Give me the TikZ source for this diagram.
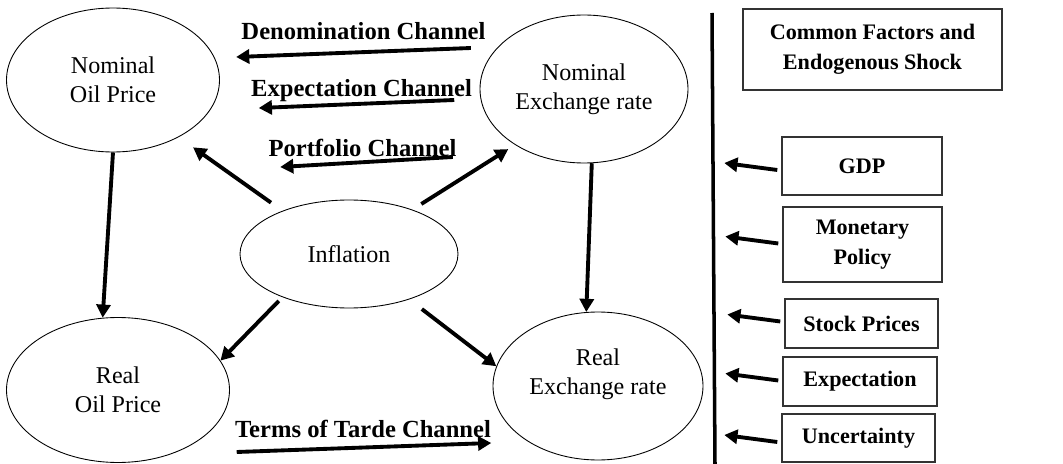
\documentclass[tikz,border=0pt]{standalone}
\usepackage{fontspec}
\setmainfont{Liberation Serif}
\usetikzlibrary{shapes.geometric,arrows.meta}

\begin{document}
\begin{tikzpicture}[x=0.2mm,y=-0.2mm,
  oval/.style={draw,ellipse,line width=0.5pt,inner sep=0pt,align=center,
    font=\fontsize{13.7}{16.5}\selectfont},
  factor/.style={draw=black!80,line width=0.8pt,inner sep=0pt,align=center,
    font=\fontsize{12.6}{17}\selectfont\bfseries},
  chan/.style={inner sep=0pt,anchor=base,font=\fontsize{14}{16}\selectfont\bfseries},
  arr/.style={line width=2.2pt,-{Triangle[length=7.5pt,width=8pt]}}]
\useasboundingbox (0,0) rectangle (1063,464);

\node[oval,minimum width=42.6mm,minimum height=28.8mm] (nop) at (113,80) {Nominal\\Oil Price};
\node[oval,minimum width=41.6mm,minimum height=29.6mm] (ner) at (584,89) {Nominal\\Exchange rate};
\node[oval,minimum width=43.6mm,minimum height=21.6mm] (inf) at (349,254) {Inflation};
\node[oval,minimum width=44.6mm,minimum height=29mm] (rop) at (118,390) {Real\\Oil Price};
\node[oval,minimum width=42mm,minimum height=29.6mm] (rer) at (598,386) {Real\\Exchange rate\\\mbox{}};

\node[chan] (den) at (363.5,40) {Denomination Channel};
\node[chan] (exc) at (361.5,97) {Expectation Channel};
\node[chan] (por) at (362.5,157) {Portfolio Channel};
\node[chan] (tot) at (363,437) {Terms of Tarde Channel};

\draw[arr] ([shift={(-15,8)}]den.base east) -- ([shift={(-5,17)}]den.base west);
\draw[arr] ([shift={(-18,3)}]exc.base east) -- ([shift={(8,11)}]exc.base west);
\draw[arr] ([shift={(-4,0)}]por.base east) -- ([shift={(12,10)}]por.base west);
\draw[arr] ([shift={(2,15)}]tot.base west) -- ([shift={(0,6)}]tot.base east);

\draw[arr] (nop.south) -- (rop.102);
\draw[arr] (ner.-84) -- (rer.99);
\draw[arr,shorten <=8pt,shorten >=10pt] (inf.147) -- (nop.-41);
\draw[arr,shorten <=6pt,shorten >=4.5pt] (inf.35) -- (ner.219.5);
\draw[arr,shorten <=3pt] (inf.213) -- (rop.16);
\draw[arr,shorten <=9pt] (inf.-37) -- (rer.169);

\coordinate (bartop) at (712,13);
\coordinate (barbot) at (715,464);
\draw[line width=2pt] (bartop) -- (barbot);

\node[factor,minimum width=51.8mm,minimum height=16.2mm] (cf) at (872.5,49.5) {Common Factors and\\Endogenous Shock};
\node[factor,minimum width=32mm,minimum height=11.6mm] (gdp) at (862,166) {GDP};
\node[factor,minimum width=31.8mm,minimum height=15mm] (mon) at (862.5,244.5) {Monetary\\Policy};
\node[factor,minimum width=30.6mm,minimum height=9.8mm] (stk) at (861.5,323.5) {Stock Prices};
\node[factor,minimum width=30.8mm,minimum height=9.8mm] (exq) at (860,381.5) {Expectation};
\node[factor,minimum width=30.6mm,minimum height=9.6mm] (unc) at (858.5,438) {Uncertainty};

\foreach \b/\dy in {gdp/4,mon/-1,stk/-2,exq/-1,unc/4}
  \draw[arr] ([shift={(-4,\dy)}]\b.west) -- ++(-53,-7);
\end{tikzpicture}
\end{document}
